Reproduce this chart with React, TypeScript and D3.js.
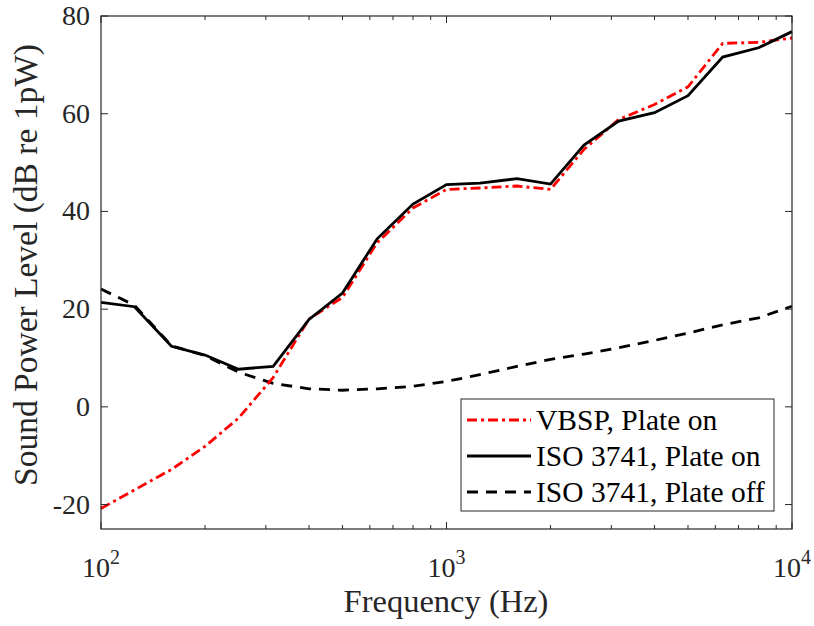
import React, { useEffect, useRef } from 'react';
import * as d3 from 'd3';

const freqs = [100, 125, 160, 200, 250, 315, 400, 500, 630, 800, 1000, 1250, 1600, 2000, 2500, 3150, 4000, 5000, 6300, 8000, 10000];
const vbspOn = [-20.8, -17.0, -12.8, -8.1, -2.3, 6.0, 18.0, 22.4, 33.6, 40.7, 44.5, 44.8, 45.2, 44.5, 52.7, 58.8, 61.9, 65.5, 74.4, 74.6, 75.5];
const isoOn = [21.4, 20.5, 12.4, 10.6, 7.7, 8.3, 17.9, 23.3, 34.4, 41.5, 45.5, 45.8, 46.7, 45.6, 53.6, 58.5, 60.2, 63.7, 71.6, 73.5, 76.8];
const isoOff = [24.1, 20.8, 12.5, 10.5, 7.1, 4.8, 3.7, 3.4, 3.7, 4.2, 5.2, 6.6, 8.3, 9.7, 10.8, 12.1, 13.6, 15.1, 16.8, 18.2, 20.6];
const yTicks = [-20, 0, 20, 40, 60, 80];
const xMajor = [100, 1000, 10000];
const legendLabels = ['VBSP, Plate on', 'ISO 3741, Plate on', 'ISO 3741, Plate off'];

const App = () => {
  const svgRef = useRef<SVGSVGElement>(null);

  useEffect(() => {
    const svg = d3.select(svgRef.current);
    svg.selectAll('*').remove();

    const left = 101, right = 792, top = 16, bottom = 529;
    const font = '"Liberation Serif", "Times New Roman", serif';
    const ink = '#262626';

    const x = d3.scaleLog().domain([100, 10000]).range([left, right]);
    const y = d3.scaleLinear().domain([-25, 80]).range([bottom, top]);

    svg.append('rect').attr('width', 814).attr('height', 626).attr('fill', '#fff');

    const line = d3.line<number>()
      .x((_, i) => x(freqs[i]))
      .y(d => y(d));

    const series = [
      { data: vbspOn, color: '#ff0000', dash: '10,4,3,4' },
      { data: isoOn, color: '#000', dash: null },
      { data: isoOff, color: '#000', dash: '11,8' },
    ];

    const g = svg.append('g');
    // plate off underneath, then VBSP, solid on top
    [series[2], series[0], series[1]].forEach(s => {
      g.append('path')
        .datum(s.data)
        .attr('fill', 'none')
        .attr('stroke', s.color)
        .attr('stroke-width', 2.8)
        .attr('stroke-dasharray', s.dash)
        .attr('d', line);
    });

    // ticks (inward, on all sides)
    const ticks = svg.append('g').attr('stroke', ink).attr('stroke-width', 1);
    const minor: number[] = [];
    [100, 1000].forEach(b => { for (let k = 2; k <= 9; k++) minor.push(b * k); });
    minor.forEach(f => {
      ticks.append('line').attr('x1', x(f)).attr('x2', x(f)).attr('y1', bottom).attr('y2', bottom - 4);
      ticks.append('line').attr('x1', x(f)).attr('x2', x(f)).attr('y1', top).attr('y2', top + 4);
    });
    xMajor.forEach(f => {
      ticks.append('line').attr('x1', x(f)).attr('x2', x(f)).attr('y1', bottom).attr('y2', bottom - 7);
      ticks.append('line').attr('x1', x(f)).attr('x2', x(f)).attr('y1', top).attr('y2', top + 7);
    });
    yTicks.forEach(v => {
      ticks.append('line').attr('x1', left).attr('x2', left + 7).attr('y1', y(v)).attr('y2', y(v));
      ticks.append('line').attr('x1', right).attr('x2', right - 7).attr('y1', y(v)).attr('y2', y(v));
    });

    svg.append('rect')
      .attr('x', left).attr('y', top)
      .attr('width', right - left).attr('height', bottom - top)
      .attr('fill', 'none').attr('stroke', ink).attr('stroke-width', 1.2);

    // y tick labels
    yTicks.forEach(v => {
      svg.append('text')
        .attr('x', left - 11).attr('y', y(v) + 9)
        .attr('text-anchor', 'end')
        .attr('font-family', font).attr('font-size', 28).attr('fill', ink)
        .text(v);
    });

    // x tick labels 10^n
    xMajor.forEach(f => {
      const t = svg.append('text')
        .attr('x', x(f)).attr('y', 577)
        .attr('text-anchor', 'middle')
        .attr('font-family', font).attr('font-size', 28).attr('fill', ink);
      t.append('tspan').text('10');
      t.append('tspan').attr('dy', -13).attr('font-size', 20).text(String(Math.round(Math.log10(f))));
    });

    svg.append('text')
      .attr('x', 446).attr('y', 612)
      .attr('text-anchor', 'middle')
      .attr('font-family', font).attr('font-size', 32.5).attr('fill', ink)
      .text('Frequency (Hz)');

    svg.append('text')
      .attr('transform', `translate(37,265) rotate(-90)`)
      .attr('text-anchor', 'middle')
      .attr('font-family', font).attr('font-size', 33.5).attr('fill', ink)
      .text('Sound Power Level (dB re 1pW)');

    // legend
    const lg = svg.append('g');
    lg.append('rect')
      .attr('x', 461).attr('y', 399).attr('width', 313).attr('height', 112)
      .attr('fill', '#fff').attr('stroke', ink).attr('stroke-width', 1);
    const rowY = [420, 456, 492];
    series.forEach((s, i) => {
      lg.append('line')
        .attr('x1', 467).attr('x2', 531).attr('y1', rowY[i]).attr('y2', rowY[i])
        .attr('stroke', s.color).attr('stroke-width', 2.8)
        .attr('stroke-dasharray', s.dash);
      lg.append('text')
        .attr('x', 536).attr('y', rowY[i] + 10)
        .attr('font-family', font).attr('font-size', 29.5).attr('fill', '#000')
        .text(legendLabels[i]);
    });
  }, []);

  return <svg ref={svgRef} width={814} height={626} style={{ position: 'absolute', left: 0, top: 0 }}></svg>;
};

export default App;
